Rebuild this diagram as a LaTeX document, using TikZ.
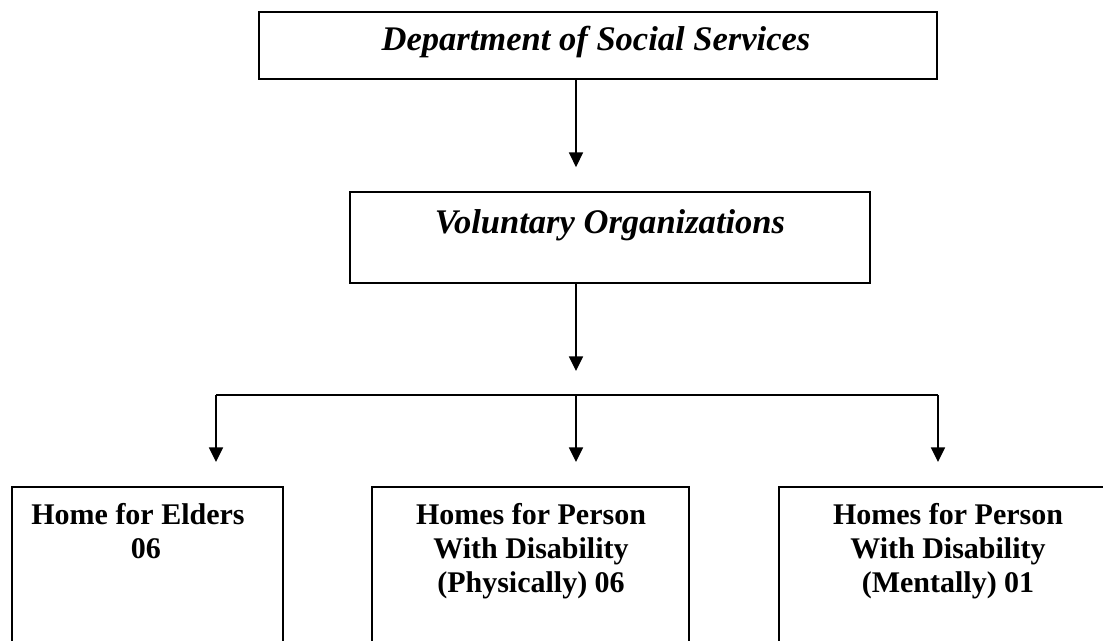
\documentclass[tikz,border=0pt]{standalone}
\usepackage{fontspec}
\setmainfont{Liberation Serif}
\usetikzlibrary{arrows.meta}
\tikzset{
  box/.style={draw=black, line width=1.3pt, inner sep=0pt},
  conn/.style={line width=1.2pt},
  arr/.style={conn, -{Triangle[width=10.5pt,length=11pt]}, shorten >=18pt},
  titletxt/.style={font=\fontsize{25.9pt}{30pt}\selectfont\bfseries\itshape, inner sep=0pt, anchor=base},
  bodytxt/.style={font=\fontsize{22.5pt}{25.5pt}\selectfont\bfseries, align=center, inner sep=0pt, anchor=base}
}
\begin{document}
\begin{tikzpicture}[x=0.75pt, y=-0.75pt]
\useasboundingbox (0,0) rectangle (1103,640);
\clip (0,0) rectangle (1103,640);
% boxes
\node[box, minimum width=678*0.75pt, minimum height=67*0.75pt] (dss) at (598,45.5) {};
\node[box, minimum width=520*0.75pt, minimum height=91*0.75pt] (vol) at (610,237.5) {};
\node[box, minimum width=271*0.75pt, minimum height=200*0.75pt, anchor=north] (eld) at (147.5,486) {};
\node[box, minimum width=317*0.75pt, minimum height=200*0.75pt, anchor=north] (phy) at (530.5,486) {};
\node[box, minimum width=338*0.75pt, minimum height=200*0.75pt, anchor=north] (men) at (948,486) {};
% texts (base anchor = baseline of the last line)
\node[titletxt] (dsst) at (596,50) {Department of Social Services};
\node[titletxt] (volt) at (610,233) {Voluntary Organizations};
\node[bodytxt] (eldt) at (138,558) {Home for Elders\\\hspace*{12pt}06};
\node[bodytxt] (phyt) at (531,592) {Homes for Person\\With Disability\\(Physically) 06};
\node[bodytxt] (ment) at (948,592) {Homes for Person\\With Disability\\(Mentally) 01};
% connectors
\coordinate (b1) at (216,395);
\coordinate (b2) at (576,395);
\coordinate (b3) at (938,395);
\draw[arr] (dss.south -| b2) -- (vol.north -| b2);
\draw[arr] (vol.south -| b2) -- (b2);
\draw[conn] (b1) -- (b3);
\draw[arr] (b1) -- (eld.north -| b1);
\draw[arr] (b2) -- (phy.north -| b2);
\draw[arr] (b3) -- (men.north -| b3);
\end{tikzpicture}
\end{document}
